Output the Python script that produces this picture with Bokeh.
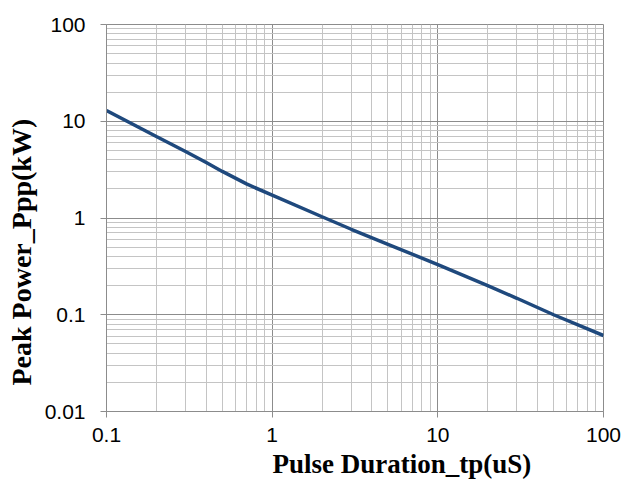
from bokeh.plotting import figure
from bokeh.models import FixedTicker, Range1d, Title
from bokeh.embed import file_html
from bokeh.resources import INLINE

# Data
duration_us = [0.1, 0.2, 0.3, 0.4, 0.5, 0.7, 1, 2, 3, 5, 10, 20, 30, 50, 100]
peak_power_kw = [12.9, 6.95, 4.87, 3.74, 3.03, 2.25, 1.72, 1.03, 0.765, 0.535,
                 0.33, 0.2, 0.148, 0.1, 0.061]

x_ticks = [0.1, 1, 10, 100]
x_tick_labels = ["0.1", "1", "10", "100"]
y_ticks = [0.01, 0.1, 1, 10, 100]
y_tick_labels = ["0.01", "0.1", "1", "10", "100"]

x_title = "Pulse Duration_tp(uS)"
y_title = "Peak  Power_Ppp(kW)"

x_minor = [m * 10 ** e for e in range(-1, 2) for m in range(2, 10)]
y_minor = [m * 10 ** e for e in range(-2, 2) for m in range(2, 10)]

p = figure(width=625, height=486, x_axis_type="log", y_axis_type="log",
           x_range=Range1d(0.1, 100), y_range=Range1d(0.01, 100),
           output_backend="svg", toolbar_location=None,
           min_border_left=106, min_border_right=22,
           min_border_top=24, min_border_bottom=75)

p.background_fill_color = "white"
p.border_fill_color = "white"
p.outline_line_color = "#8C8C8C"

xt = FixedTicker(ticks=x_ticks, minor_ticks=x_minor)
yt = FixedTicker(ticks=y_ticks, minor_ticks=y_minor)
p.xaxis.ticker = xt
p.yaxis.ticker = yt
p.xgrid.ticker = xt
p.ygrid.ticker = yt

p.xaxis.major_label_overrides = {v: s for v, s in zip(x_ticks, x_tick_labels)}
p.yaxis.major_label_overrides = {v: s for v, s in zip(y_ticks, y_tick_labels)}

for ax in (p.xaxis, p.yaxis):
    ax.axis_line_color = "#8C8C8C"
    ax.major_tick_line_color = "#8C8C8C"
    ax.major_tick_out = 6
    ax.major_tick_in = 0
    ax.minor_tick_out = 0
    ax.minor_tick_in = 0
    ax.major_label_text_font = "Liberation Sans"
    ax.major_label_text_font_size = "21px"
    ax.major_label_text_color = "black"

p.yaxis.major_label_standoff = 15
p.xaxis.major_label_standoff = 10

for g in (p.xgrid, p.ygrid):
    g.grid_line_color = "#8C8C8C"
    g.grid_line_width = 1
    g.minor_grid_line_color = "#C4C4C4"
    g.minor_grid_line_width = 1

p.line(duration_us, peak_power_kw, line_color="#1F497D", line_width=3.5)

p.add_layout(Title(text=x_title, align="left", offset=166, standoff=4,
                   text_font="Liberation Serif", text_font_style="bold",
                   text_font_size="27px", text_color="black"), "below")
p.add_layout(Title(text=y_title, align="left", offset=26, standoff=6,
                   vertical_align="top",
                   text_font="Liberation Serif", text_font_style="bold",
                   text_font_size="28px", text_color="black"), "left")

open("out.html", "w").write(file_html(p, INLINE))
